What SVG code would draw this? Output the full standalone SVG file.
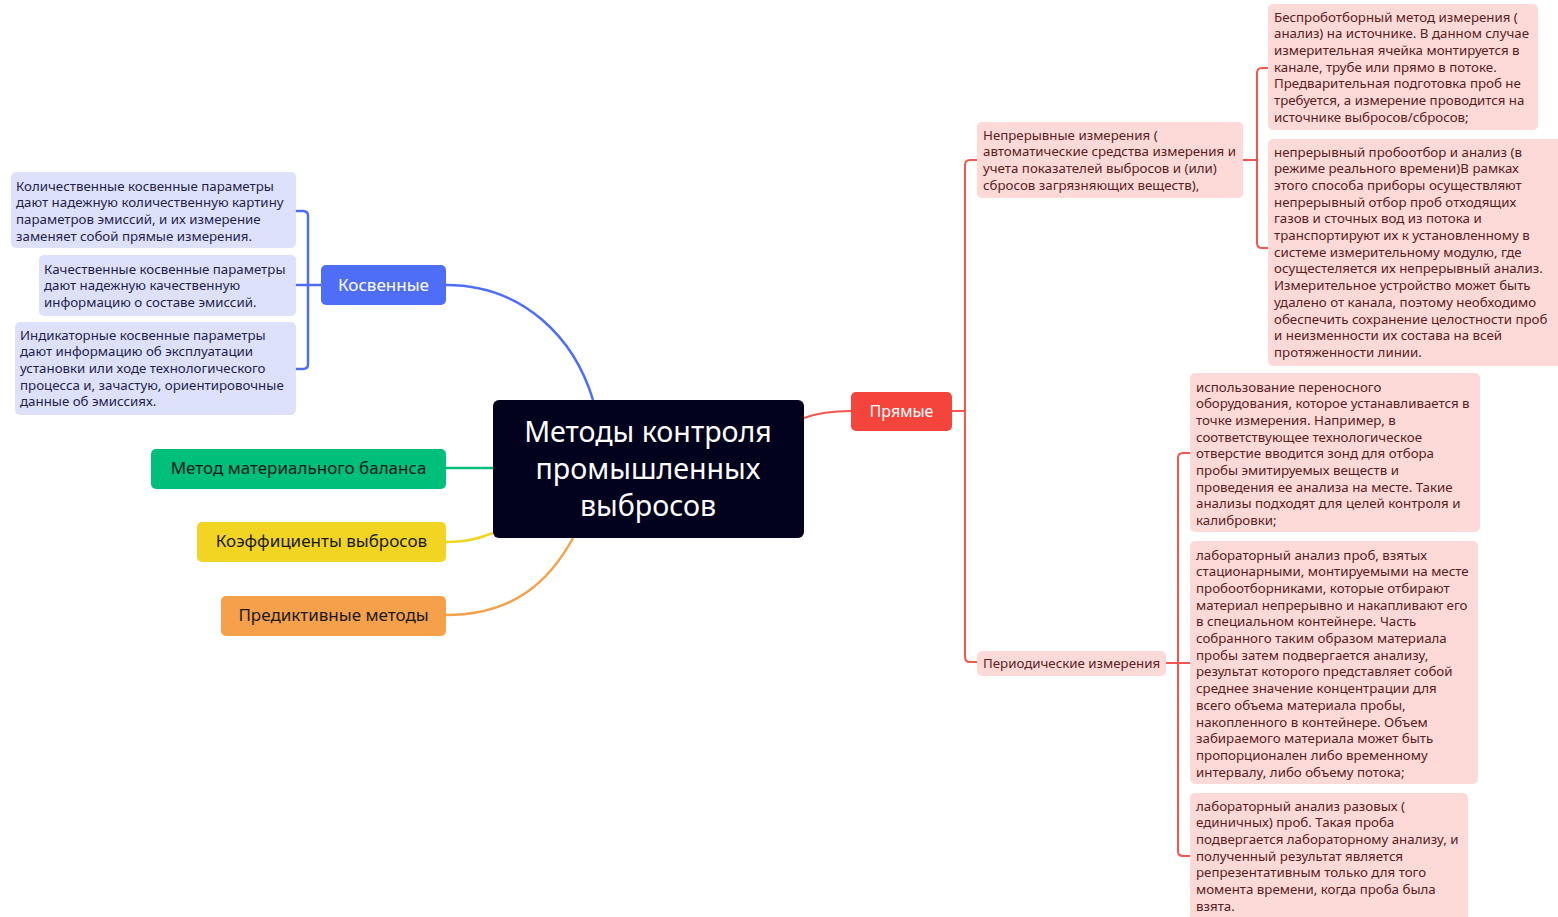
<svg xmlns="http://www.w3.org/2000/svg" width="1558" height="917" viewBox="0 0 1558 917">
<style>
.bg{fill:#ffffff}
.leafB{fill:#dde1fb}
.leafR{fill:#fddad8}
.tB{font-family:"Noto Sans","Open Sans",sans-serif;font-size:13.3px;fill:#1f1f4d}
.tR{font-family:"Noto Sans","Open Sans",sans-serif;font-size:13.3px;fill:#5a2020}
.main{font-family:"Noto Sans","Open Sans",sans-serif;font-size:17px}
.title{font-family:"Noto Sans","Open Sans",sans-serif;font-size:28.6px;fill:#ffffff;text-anchor:middle}
.cB{fill:none;stroke:#4f6ef7;stroke-width:2.5}
.cR{fill:none;stroke:#f5554c;stroke-width:2}
.cG{fill:none;stroke:#00bf7a;stroke-width:2.5}
.cY{fill:none;stroke:#f2d422;stroke-width:2.5}
.cO{fill:none;stroke:#f5a04a;stroke-width:2.5}
</style>
<rect class="bg" x="0" y="0" width="1558" height="917"/>
<g id="connectors">
<path class="cB" d="M446,285 C525,285 575,340 593,400"/>
<path class="cG" d="M446,468 L493,468"/>
<path class="cY" d="M446,542 C470,542 482,537 493,533"/>
<path class="cO" d="M446,615 C515,615 550,580 573,538"/>
<path class="cR" d="M804,418 C820,412 835,411 851,411"/>
<path class="cB" d="M321,285 L296,285 M296,211 L303,211 Q308,211 308,216 L308,364 Q308,369 303,369 L296,369"/>
<path class="cR" d="M952,411 L965,411 M977,160 L970,160 Q965,160 965,165 L965,657 Q965,662 970,662 L977,662"/>
<path class="cR" d="M1243,160 L1257,160 M1268,68 L1262,68 Q1257,68 1257,73 L1257,243 Q1257,248 1262,248 L1268,248"/>
<path class="cR" d="M1166,663 L1190,663 M1190,453 L1183,453 Q1178,453 1178,458 L1178,851 Q1178,856 1183,856 L1190,856"/>
</g>
<g id="center">
<rect x="493" y="400" width="311" height="138" rx="6" fill="#02021f"/>
<text class="title" x="648" y="442">Методы контроля</text>
<text class="title" x="648" y="479">промышленных</text>
<text class="title" x="648" y="516">выбросов</text>
</g>
<g id="kosvennye">
<rect x="321" y="265" width="125" height="40" rx="5" fill="#4f6ef7"/>
<text class="main" x="383.5" y="291" fill="#ffffff" text-anchor="middle">Косвенные</text>
</g>
<g id="kos1">
<rect class="leafB" x="11" y="172" width="285" height="76" rx="5"/>
<text class="tB" x="16" y="190.5">Количественные косвенные параметры</text>
<text class="tB" x="16" y="207.2">дают надежную количественную картину</text>
<text class="tB" x="16" y="223.9">параметров эмиссий, и их измерение</text>
<text class="tB" x="16" y="240.6">заменяет собой прямые измерения.</text>
</g>
<g id="kos2">
<rect class="leafB" x="39" y="255" width="257" height="61" rx="5"/>
<text class="tB" x="44" y="273.5">Качественные косвенные параметры</text>
<text class="tB" x="44" y="290.2">дают надежную качественную</text>
<text class="tB" x="44" y="306.9">информацию о составе эмиссий.</text>
</g>
<g id="kos3">
<rect class="leafB" x="15" y="322" width="281" height="93" rx="5"/>
<text class="tB" x="20" y="339.5">Индикаторные косвенные параметры</text>
<text class="tB" x="20" y="356.2">дают информацию об эксплуатации</text>
<text class="tB" x="20" y="372.9">установки или ходе технологического</text>
<text class="tB" x="20" y="389.6">процесса и, зачастую, ориентировочные</text>
<text class="tB" x="20" y="406.3">данные об эмиссиях.</text>
</g>
<g id="balance">
<rect x="151" y="449" width="295" height="40" rx="5" fill="#00bf7a"/>
<text class="main" x="298.5" y="474" fill="#1a1a1a" text-anchor="middle">Метод материального баланса</text>
</g>
<g id="koef">
<rect x="197" y="522" width="249" height="40" rx="5" fill="#f2d422"/>
<text class="main" x="321.5" y="547" fill="#1a1a1a" text-anchor="middle">Коэффициенты выбросов</text>
</g>
<g id="predict">
<rect x="221" y="596" width="225" height="40" rx="5" fill="#f5a04a"/>
<text class="main" x="333.5" y="621" fill="#1a1a1a" text-anchor="middle">Предиктивные методы</text>
</g>
<g id="pryamye">
<rect x="851" y="392" width="101" height="39" rx="5" fill="#f5443b"/>
<text class="main" x="901.5" y="417" fill="#ffffff" text-anchor="middle" style="font-size:16px">Прямые</text>
</g>
<g id="nepreryvnye">
<rect class="leafR" x="977" y="122" width="266" height="76" rx="5"/>
<text class="tR" x="983" y="139.5">Непрерывные измерения (</text>
<text class="tR" x="983" y="156.2">автоматические средства измерения и</text>
<text class="tR" x="983" y="172.9">учета показателей выбросов и (или)</text>
<text class="tR" x="983" y="189.6">сбросов загрязняющих веществ),</text>
</g>
<g id="besprob">
<rect class="leafR" x="1268" y="4" width="270" height="126" rx="5"/>
<text class="tR" x="1274" y="21.5">Беспроботборный метод измерения (</text>
<text class="tR" x="1274" y="38.2">анализ) на источнике. В данном случае</text>
<text class="tR" x="1274" y="54.9">измерительная ячейка монтируется в</text>
<text class="tR" x="1274" y="71.6">канале, трубе или прямо в потоке.</text>
<text class="tR" x="1274" y="88.3">Предварительная подготовка проб не</text>
<text class="tR" x="1274" y="105">требуется, а измерение проводится на</text>
<text class="tR" x="1274" y="121.7">источнике выбросов/сбросов;</text>
</g>
<g id="nepprob">
<rect class="leafR" x="1268" y="139" width="296" height="227" rx="5"/>
<text class="tR" x="1274" y="156.5">непрерывный пробоотбор и анализ (в</text>
<text class="tR" x="1274" y="173.2">режиме реального времени)В рамках</text>
<text class="tR" x="1274" y="189.9">этого способа приборы осуществляют</text>
<text class="tR" x="1274" y="206.6">непрерывный отбор проб отходящих</text>
<text class="tR" x="1274" y="223.3">газов и сточных вод из потока и</text>
<text class="tR" x="1274" y="240">транспортируют их к установленному в</text>
<text class="tR" x="1274" y="256.7">системе измерительному модулю, где</text>
<text class="tR" x="1274" y="273.4">осущестеляется их непрерывный анализ.</text>
<text class="tR" x="1274" y="290.1">Измерительное устройство может быть</text>
<text class="tR" x="1274" y="306.8">удалено от канала, поэтому необходимо</text>
<text class="tR" x="1274" y="323.5">обеспечить сохранение целостности проб</text>
<text class="tR" x="1274" y="340.2">и неизменности их состава на всей</text>
<text class="tR" x="1274" y="356.9">протяженности линии.</text>
</g>
<g id="periodic">
<rect class="leafR" x="977" y="651" width="189" height="25" rx="5"/>
<text class="tR" x="983" y="667.5">Периодические измерения</text>
</g>
<g id="perA">
<rect class="leafR" x="1190" y="373" width="290" height="159" rx="5"/>
<text class="tR" x="1196" y="391.5">использование переносного</text>
<text class="tR" x="1196" y="408.2">оборудования, которое устанавливается в</text>
<text class="tR" x="1196" y="424.9">точке измерения. Например, в</text>
<text class="tR" x="1196" y="441.6">соответствующее технологическое</text>
<text class="tR" x="1196" y="458.3">отверстие вводится зонд для отбора</text>
<text class="tR" x="1196" y="475">пробы эмитируемых веществ и</text>
<text class="tR" x="1196" y="491.7">проведения ее анализа на месте. Такие</text>
<text class="tR" x="1196" y="508.4">анализы подходят для целей контроля и</text>
<text class="tR" x="1196" y="525.1">калибровки;</text>
</g>
<g id="perB">
<rect class="leafR" x="1190" y="541" width="288" height="243" rx="5"/>
<text class="tR" x="1196" y="559.5">лабораторный анализ проб, взятых</text>
<text class="tR" x="1196" y="576.2">стационарными, монтируемыми на месте</text>
<text class="tR" x="1196" y="592.9">пробоотборниками, которые отбирают</text>
<text class="tR" x="1196" y="609.6">материал непрерывно и накапливают его</text>
<text class="tR" x="1196" y="626.3">в специальном контейнере. Часть</text>
<text class="tR" x="1196" y="643">собранного таким образом материала</text>
<text class="tR" x="1196" y="659.7">пробы затем подвергается анализу,</text>
<text class="tR" x="1196" y="676.4">результат которого представляет собой</text>
<text class="tR" x="1196" y="693.1">среднее значение концентрации для</text>
<text class="tR" x="1196" y="709.8">всего объема материала пробы,</text>
<text class="tR" x="1196" y="726.5">накопленного в контейнере. Объем</text>
<text class="tR" x="1196" y="743.2">забираемого материала может быть</text>
<text class="tR" x="1196" y="759.9">пропорционален либо временному</text>
<text class="tR" x="1196" y="776.6">интервалу, либо объему потока;</text>
</g>
<g id="perC">
<rect class="leafR" x="1190" y="793" width="278" height="135" rx="5"/>
<text class="tR" x="1196" y="810.5">лабораторный анализ разовых (</text>
<text class="tR" x="1196" y="827.2">единичных) проб. Такая проба</text>
<text class="tR" x="1196" y="843.9">подвергается лабораторному анализу, и</text>
<text class="tR" x="1196" y="860.6">полученный результат является</text>
<text class="tR" x="1196" y="877.3">репрезентативным только для того</text>
<text class="tR" x="1196" y="894">момента времени, когда проба была</text>
<text class="tR" x="1196" y="910.7">взята.</text>
</g>
</svg>
